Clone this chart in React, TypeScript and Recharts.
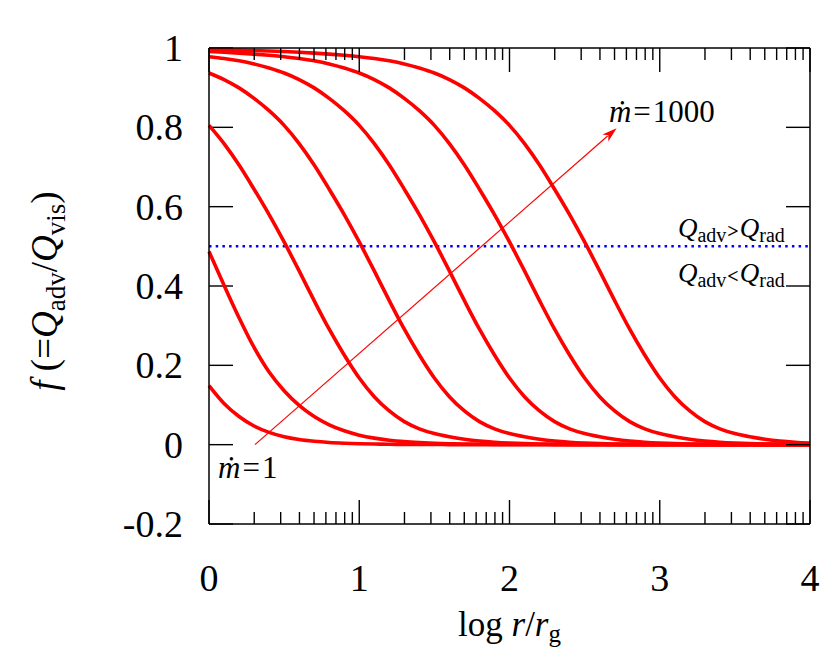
import React from 'react';
import { LineChart, Line, XAxis, YAxis, ReferenceLine, ReferenceDot, Label } from 'recharts';

const FONT = "'Liberation Serif', 'DejaVu Serif', serif";
const RED = '#ff0000';
const BLUE = '#0000ff';
const MAJOR = 24;
const MINOR = 12;
const CHART_W = 822;
const CHART_H = 640;
const MARGIN = { top: 39, right: 19, bottom: 24, left: 81 };
const LEFT_AXIS_W = 120;
const RIGHT_AXIS_W = 1;
const X_DOMAIN: [number, number] = [0, 4];
const PLOT_W = CHART_W - MARGIN.left - MARGIN.right - LEFT_AXIS_W - RIGHT_AXIS_W;
// inward tick length on the left frame, in x-axis units
const LEFT_TICK_LEN = (MAJOR / PLOT_W) * (X_DOMAIN[1] - X_DOMAIN[0]);

// log r/rg sample points
const logR = [
  0, 0.1, 0.2, 0.3, 0.4, 0.5, 0.6, 0.7, 0.8, 0.9,
  1, 1.1, 1.2, 1.3, 1.4, 1.5, 1.6, 1.7, 1.8, 1.9,
  2, 2.1, 2.2, 2.3, 2.4, 2.5, 2.6, 2.7, 2.8, 2.9,
  3, 3.1, 3.2, 3.3, 3.4, 3.5, 3.6, 3.7, 3.8, 3.9, 4,
];

// f = Qadv/Qvis for each mdot
const fM1 = [
  0.149, 0.104, 0.071, 0.047, 0.031, 0.02, 0.013, 0.0085, 0.0055, 0.0036,
  0.0023, 0.0015, 0.001, 0.0006, 0.0004, 0.0003, 0.0002, 0.0001, 0, 0,
  0, 0, 0, 0, 0, 0, 0, 0, 0, 0,
  0, 0, 0, 0, 0, 0, 0, 0, 0, 0, 0,
];
const fM3 = [
  0.487, 0.402, 0.32, 0.245, 0.183, 0.136, 0.099, 0.071, 0.05, 0.035,
  0.024, 0.0165, 0.0113, 0.0077, 0.0053, 0.0036, 0.0025, 0.0017, 0.0012, 0.0008,
  0.0005, 0.0004, 0.0003, 0.0002, 0.0001, 0, 0, 0, 0, 0,
  0, 0, 0, 0, 0, 0, 0, 0, 0, 0, 0,
];
const fM10 = [
  0.805, 0.759, 0.705, 0.644, 0.58, 0.511, 0.438, 0.363, 0.291, 0.226,
  0.168, 0.121, 0.085, 0.058, 0.04, 0.028, 0.0198, 0.0138, 0.0093, 0.0062,
  0.0041, 0.0027, 0.0018, 0.0012, 0.0008, 0.0005, 0.0003, 0.0002, 0.0001, 0,
  0, 0, 0, 0, 0, 0, 0, 0, 0, 0, 0,
];
const fM30 = [
  0.937, 0.9205, 0.8995, 0.873, 0.842, 0.805, 0.759, 0.705, 0.644, 0.58,
  0.511, 0.438, 0.363, 0.291, 0.226, 0.168, 0.121, 0.085, 0.058, 0.04,
  0.028, 0.0198, 0.0138, 0.0093, 0.0062, 0.0041, 0.0027, 0.0018, 0.0012, 0.0008,
  0.0005, 0.0003, 0.0002, 0.0001, 0, 0, 0, 0, 0, 0, 0,
];
const fM100 = [
  0.978, 0.9735, 0.9677, 0.9599, 0.9496, 0.937, 0.9205, 0.8995, 0.873, 0.842,
  0.805, 0.759, 0.705, 0.644, 0.58, 0.511, 0.438, 0.363, 0.291, 0.226,
  0.168, 0.121, 0.085, 0.058, 0.04, 0.028, 0.0198, 0.0138, 0.0093, 0.0062,
  0.0041, 0.0027, 0.0018, 0.0012, 0.0008, 0.0005, 0.0003, 0.0002, 0.0001, 0, 0,
];
const fM300 = [
  0.991, 0.9892, 0.9871, 0.9846, 0.9816, 0.978, 0.9735, 0.9677, 0.9599, 0.9496,
  0.937, 0.9205, 0.8995, 0.873, 0.842, 0.805, 0.759, 0.705, 0.644, 0.58,
  0.511, 0.438, 0.363, 0.291, 0.226, 0.168, 0.121, 0.085, 0.058, 0.04,
  0.028, 0.0198, 0.0138, 0.0093, 0.0062, 0.0041, 0.0027, 0.0018, 0.0012, 0.0008, 0.0005,
];
const fM1000 = [
  0.9962, 0.9955, 0.9947, 0.9937, 0.9925, 0.991, 0.9892, 0.9871, 0.9846, 0.9816,
  0.978, 0.9735, 0.9677, 0.9599, 0.9496, 0.937, 0.9205, 0.8995, 0.873, 0.842,
  0.805, 0.759, 0.705, 0.644, 0.58, 0.511, 0.438, 0.363, 0.291, 0.226,
  0.168, 0.121, 0.085, 0.058, 0.04, 0.028, 0.0198, 0.0138, 0.0093, 0.0062, 0.0041,
];

const seriesKeys = ['m1', 'm3', 'm10', 'm30', 'm100', 'm300', 'm1000'];
const seriesValues = [fM1, fM3, fM10, fM30, fM100, fM300, fM1000];

const data = logR.map((x, i) => {
  const row: Record<string, number> = { x };
  seriesKeys.forEach((k, j) => { row[k] = seriesValues[j][i]; });
  return row;
});

const xMajor = [0, 1, 2, 3, 4];
const xMinorOffsets = [0.301, 0.477, 0.602, 0.699, 0.778, 0.845, 0.903, 0.954];
const xTicks = [
  ...xMajor,
  ...[0, 1, 2, 3].flatMap((d) => xMinorOffsets.map((o) => d + o)),
].sort((a, b) => a - b);

const yTicks = [-0.2, 0, 0.2, 0.4, 0.6, 0.8, 1];
const yTickLabels = ['-0.2', '0', '0.2', '0.4', '0.6', '0.8', '1'];

const txt = (size: number) => ({ fontFamily: FONT, fontSize: size });

const BottomTick = (props: any) => {
  const { x, y, payload } = props;
  const major = Number.isInteger(payload.value);
  return (
    <g>
      <line x1={x} y1={y} x2={x} y2={y - (major ? MAJOR : MINOR)} stroke="#000" strokeWidth={1.4} />
      {major && (
        <text x={x} y={y + 67} textAnchor="middle" fill="#000" style={txt(38)}>
          {payload.value}
        </text>
      )}
    </g>
  );
};

const TopTick = (props: any) => {
  const { x, y, payload } = props;
  const major = Number.isInteger(payload.value);
  return <line x1={x} y1={y} x2={x} y2={y + (major ? MAJOR : MINOR)} stroke="#000" strokeWidth={1.4} />;
};

const LeftTick = (props: any) => {
  const { x, y, payload } = props;
  const idx = yTicks.findIndex((t) => Math.abs(t - payload.value) < 1e-9);
  return (
    <text x={x - 26} y={y + 13} textAnchor="end" fill="#000" style={txt(38)}>
      {yTickLabels[idx]}
    </text>
  );
};

const RightTick = (props: any) => {
  const { x, y } = props;
  return <line x1={x} y1={y} x2={x - MAJOR} y2={y} stroke="#000" strokeWidth={1.4} />;
};

const XTitle = (props: any) => {
  const vb = props.viewBox;
  return (
    <text x={vb.x + vb.width / 2} y={vb.y + 112} textAnchor="middle" fill="#000" style={txt(35)}>
      log <tspan fontStyle="italic">r</tspan>/<tspan fontStyle="italic">r</tspan>
      <tspan style={txt(25)} dy={6}>g</tspan>
    </text>
  );
};

const YTitle = (props: any) => {
  const vb = props.viewBox;
  const cx = vb.x - 32;
  const cy = vb.y + vb.height / 2 + 5;
  return (
    <text x={cx} y={cy} transform={`rotate(-90 ${cx} ${cy})`} textAnchor="middle" fill="#000" style={txt(37)}>
      <tspan fontStyle="italic">f</tspan> (=<tspan fontStyle="italic">Q</tspan>
      <tspan style={txt(27)} dy={8}>adv</tspan>
      <tspan dy={-8}>/</tspan><tspan fontStyle="italic">Q</tspan>
      <tspan style={txt(27)} dy={8}>vis</tspan>
      <tspan dy={-8}>)</tspan>
    </text>
  );
};

const Arrow = (props: any) => {
  const { x1, y1, x2, y2 } = props;
  const ang = Math.atan2(y2 - y1, x2 - x1);
  const len = 15;
  const half = 4.5;
  const c = Math.cos(ang);
  const s = Math.sin(ang);
  const bx = x2 - len * c;
  const by = y2 - len * s;
  const px = -s * half;
  const py = c * half;
  return (
    <g>
      <line x1={x1} y1={y1} x2={bx + 3 * c} y2={by + 3 * s} stroke={RED} strokeWidth={1.2} />
      <polygon points={`${x2},${y2} ${bx + px},${by + py} ${bx + 4 * c},${by + 4 * s} ${bx - px},${by - py}`} fill={RED} />
    </g>
  );
};

const MdotText = (label: string) => (props: any) => (
  <text x={props.cx} y={props.cy} fill="#000" style={txt(31)}>
    <tspan fontStyle="italic">ṁ</tspan>
    <tspan dx={2}>=</tspan>
    <tspan dx={2}>{label}</tspan>
  </text>
);

const QText = (sign: string) => (props: any) => (
  <text x={props.cx} y={props.cy} fill="#000" style={txt(27)}>
    <tspan fontStyle="italic">Q</tspan>
    <tspan style={txt(20)} dy={5}>adv</tspan>
    <tspan style={txt(20)} dy={-4} dx={1} fontWeight="bold">{sign}</tspan>
    <tspan fontStyle="italic" dy={-1} dx={1}>Q</tspan>
    <tspan style={txt(20)} dy={5}>rad</tspan>
  </text>
);

const axisLine = { stroke: '#000', strokeWidth: 1.5 };

export default function App() {
  return (
    <div style={{ width: CHART_W, height: CHART_H, background: '#fff' }}>
      <LineChart width={CHART_W} height={CHART_H} data={data} margin={MARGIN}>
        <XAxis
          dataKey="x"
          type="number"
          domain={X_DOMAIN}
          ticks={xTicks}
          interval={0}
          height={100}
          tickSize={0}
          tickMargin={0}
          tickLine={false}
          axisLine={axisLine}
          tick={<BottomTick />}
        >
          <Label content={<XTitle />} />
        </XAxis>
        <XAxis
          xAxisId="top"
          dataKey="x"
          orientation="top"
          type="number"
          domain={X_DOMAIN}
          ticks={xTicks}
          interval={0}
          height={1}
          tickSize={0}
          tickMargin={0}
          tickLine={false}
          axisLine={axisLine}
          tick={<TopTick />}
        />
        <YAxis
          type="number"
          domain={[-0.2, 1]}
          ticks={yTicks}
          interval={0}
          width={LEFT_AXIS_W}
          tickSize={0}
          tickMargin={0}
          tickLine={false}
          axisLine={axisLine}
          tick={<LeftTick />}
        >
          <Label content={<YTitle />} />
        </YAxis>
        <YAxis
          yAxisId="right"
          orientation="right"
          type="number"
          domain={[-0.2, 1]}
          ticks={yTicks}
          interval={0}
          width={RIGHT_AXIS_W}
          tickSize={0}
          tickMargin={0}
          tickLine={false}
          axisLine={axisLine}
          tick={<RightTick />}
        />
        {/* inward major ticks on the left frame */}
        {yTicks.map((t) => (
          <ReferenceLine
            key={`lt${t}`}
            segment={[{ x: X_DOMAIN[0], y: t }, { x: X_DOMAIN[0] + LEFT_TICK_LEN, y: t }]}
            stroke="#000"
            strokeWidth={1.4}
            ifOverflow="visible"
          />
        ))}
        <ReferenceLine y={0.5} stroke={BLUE} strokeWidth={2.5} strokeDasharray="2.5 4.2" />
        {seriesKeys.map((k) => (
          <Line
            key={k}
            type="monotone"
            dataKey={k}
            stroke={RED}
            strokeWidth={3.6}
            dot={false}
            activeDot={false}
            isAnimationActive={false}
          />
        ))}
        {/* invisible series tying the top and right frame axes to the data */}
        <Line
          xAxisId="top"
          yAxisId="right"
          dataKey="m1"
          stroke="none"
          dot={false}
          activeDot={false}
          isAnimationActive={false}
        />
        <ReferenceLine
          segment={[{ x: 0.306, y: 0 }, { x: 2.713, y: 0.798 }]}
          stroke={RED}
          shape={<Arrow />}
        />
        <ReferenceDot x={2.662} y={0.814} r={0} shape={MdotText('1000')} />
        <ReferenceDot x={0.06} y={-0.083} r={0} shape={MdotText('1')} />
        <ReferenceDot x={3.121} y={0.524} r={0} shape={QText('>')} />
        <ReferenceDot x={3.121} y={0.411} r={0} shape={QText('<')} />
      </LineChart>
    </div>
  );
}
